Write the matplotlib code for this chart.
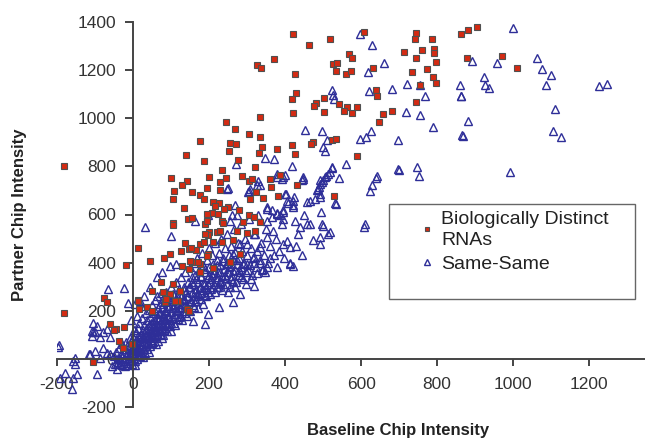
import numpy as np
import matplotlib
matplotlib.use("Agg")
import matplotlib.pyplot as plt
from matplotlib.patches import Rectangle

plt.rcParams["font.family"] = ["Liberation Sans", "DejaVu Sans"]
plt.rcParams["axes.unicode_minus"] = False

# Biologically distinct RNAs (red squares)
red_upper = [
    (420, 1351), (463, 1304), (371, 1245), (327, 1221), (337, 1207), (426, 1183), (428, 1104),
    (418, 1078), (422, 1021), (333, 1007), (244, 983), (518, 1329), (609, 1360), (569, 1265),
    (577, 1251), (527, 1224), (536, 1228), (533, 1197), (561, 1185), (574, 1197), (631, 1207),
    (745, 1356), (742, 1329), (786, 1328), (713, 1276), (760, 1283), (792, 1286), (792, 1270),
    (745, 1249), (796, 1233), (733, 1193), (773, 1203), (790, 1171), (797, 1146), (754, 1138),
    (745, 1068), (864, 1349), (881, 1367), (904, 1379), (880, 1251), (971, 1260), (1011, 1210),
    (503, 1086), (482, 1063), (476, 1051), (503, 1026), (541, 1061), (562, 1047), (589, 1047),
    (555, 1031), (576, 1020), (639, 1117), (641, 1092), (659, 1018), (682, 1031), (647, 985),
    (473, 901), (468, 894), (523, 908), (534, 912), (590, 842), (529, 676), (-181, 801),
]
red_mid = [
    (14, 460), (269, 957), (306, 933), (334, 922), (177, 905), (255, 898), (272, 894), (253, 865),
    (339, 881), (332, 857), (379, 874), (419, 889), (426, 851), (139, 849), (186, 822), (276, 825),
    (320, 797), (233, 783), (287, 762), (99, 751), (201, 754), (244, 750), (141, 740), (130, 722),
    (229, 736), (304, 740), (312, 746), (361, 746), (387, 765), (432, 721), (194, 711), (229, 700),
    (107, 699), (156, 694), (177, 683), (363, 715), (323, 693), (106, 665), (187, 665), (308, 665),
    (341, 670), (381, 678), (211, 654), (225, 649), (216, 635), (134, 628), (251, 633), (240, 624),
    (279, 617), (207, 607), (194, 601), (224, 601), (306, 599), (319, 588), (144, 580), (154, 585),
    (233, 571), (290, 568), (106, 564), (189, 561), (334, 568),
]
red_lower = [
    (-182, 190), (-18, 392), (45, 408), (82, 420), (97, 436), (106, 558), (138, 482), (126, 450),
    (148, 457), (165, 453), (176, 478), (187, 485), (194, 572), (201, 526), (198, 513), (236, 564),
    (220, 526), (229, 530), (211, 485), (234, 485), (264, 494), (273, 533), (300, 522), (321, 530),
    (282, 436), (255, 401), (128, 387), (146, 374), (176, 394), (159, 401), (211, 378), (74, 318),
    (49, 283), (106, 311), (97, 270), (14, 245), (36, 214), (84, 235), (119, 242), (141, 207),
    (-76, 255), (-69, 235), (-61, 147), (-45, 124), (-24, 133), (-36, 75), (-104, -15), (-3, 61),
    (-26, 47), (-50, 119), (12, 242), (152, 461), (189, 519), (198, 436), (194, 429), (150, 408),
    (172, 401), (176, 360), (80, 276), (17, 207), (49, 200), (88, 249), (124, 283), (111, 239),
    (146, 200),
]

# Same-Same (blue triangles)
blue_upper = [
    (596, 1352), (628, 1304), (661, 1231), (619, 1193), (720, 1143), (754, 1138), (769, 1093),
    (719, 1024), (754, 1015), (861, 1138), (862, 1093), (523, 1117), (527, 1096), (530, 1082),
    (621, 1113), (681, 1121), (999, 1376), (891, 1238), (957, 1231), (1062, 1249), (1075, 1204),
    (1100, 1179), (1087, 1138), (1227, 1135), (1246, 1144), (924, 1173), (926, 1140), (937, 1124),
    (863, 1092), (1111, 1040), (882, 989), (865, 932), (869, 926), (1104, 949), (1126, 921),
    (992, 776), (790, 964), (699, 783), (746, 799), (752, 758), (452, 950), (498, 946), (510, 908),
    (501, 881), (505, 862), (596, 915), (613, 922), (625, 946), (696, 911), (561, 811), (523, 793),
    (541, 751), (641, 762), (640, 751), (698, 788), (628, 721), (624, 696), (611, 561), (608, 550),
]
blue_band = [
    (32, 550), (348, 836), (372, 829), (271, 808), (418, 801), (400, 765), (391, 749), (378, 755),
    (447, 749), (328, 738), (326, 721), (249, 711), (306, 696), (402, 686), (424, 672), (409, 649),
    (457, 654), (268, 640), (353, 630), (378, 607), (387, 600), (395, 610), (260, 599), (365, 588),
    (451, 596), (426, 571), (163, 571), (352, 575), (395, 582), (198, 596), (514, 770), (505, 755),
    (497, 735), (488, 714), (483, 700), (509, 762), (500, 745), (493, 725), (486, 707), (518, 778),
    (448, 755), (466, 658), (479, 665), (492, 672), (533, 645), (494, 610), (466, 561), (498, 561),
    (523, 799), (532, 649), (444, 745), (492, 742), (492, 686), (400, 686), (404, 658), (422, 658),
    (303, 693), (308, 707), (246, 707), (334, 721), (378, 770), (395, 757), (352, 624), (501, 554),
    (517, 526), (492, 478), (413, 395), (422, 388), (352, 380), (343, 373), (474, 492), (492, 505),
    (514, 519), (395, 478), (413, 464), (439, 547), (457, 561), (378, 603), (395, 617), (422, 630),
    (369, 533), (352, 505), (334, 464), (317, 422), (299, 395), (282, 360), (264, 325), (282, 478),
    (264, 436), (246, 395), (317, 519), (299, 478), (255, 575), (273, 596), (220, 297), (229, 325),
    (189, 144), (317, 304), (264, 235), (282, 270), (251, 276), (225, 214), (198, 186), (159, 158),
    (100, 512), (18, 242), (62, 339), (97, 387), (113, 395), (20, 220), (30, 262), (10, 180),
    (45, 300), (75, 360), (5, 228), (-5, 162),
]
blue_left = [
    (-65, 290), (-24, 294), (-194, 57), (-153, 5), (-153, -22), (-179, -57), (-192, -78),
    (-148, -64), (-161, -126), (-94, -64), (-113, 19), (-100, 33), (-78, 47), (-61, 19), (-39, 5),
    (-43, -22), (-104, 110), (-96, 138), (-109, 96), (-87, 89), (-69, 124), (-61, 89), (-14, 232),
    (-104, 151), (-109, 117), (-100, 110), (-78, 110), (-197, 50), (-157, -8), (-157, -78),
    (-115, 19), (-87, 5), (-69, 26), (-47, -22), (-55, -30), (-50, 10), (-45, 30), (-42, -40),
    (-38, 45), (-33, -20), (-28, 60), (-22, -30), (-18, 70), (-12, -25), (-7, 85), (-3, -20),
    (2, 120), (6, -25),
]
blue_core = [
    (-40, -15), (-35, 0), (-32, 15), (-30, -25), (-28, 8), (-25, 25), (-24, -10), (-22, 40),
    (-20, 0), (-18, 18), (-16, -18), (-15, 55), (-14, 30), (-12, 5), (-10, 45), (-9, -8), (-8, 20),
    (-6, 70), (-5, 35), (-4, 10), (-2, -5), (-1, 55), (0, 25), (1, 90), (2, 5), (3, 42), (4, -10),
    (5, 65), (6, 18), (7, 110), (8, 33), (9, 80), (10, 0), (11, 50), (12, 130), (13, 20), (14, 95),
    (15, 60), (16, 38), (17, 150), (18, 12), (19, 75), (20, 105), (21, 45), (22, 28), (23, 170),
    (24, 88), (25, 60), (26, 120), (27, 8), (28, 40), (29, 140), (30, 72), (31, 100), (32, 25),
    (33, 190), (34, 55), (35, 125), (36, 85), (37, 160), (38, 40), (39, 110), (40, 70), (41, 205),
    (42, 140), (43, 95), (44, 55), (45, 175), (46, 120), (47, 80), (48, 150), (49, 225), (50, 100),
    (51, 65), (52, 135), (53, 190), (54, 110), (55, 160), (56, 85), (57, 245), (58, 125), (59, 200),
    (60, 95), (61, 150), (62, 175), (63, 115), (64, 260), (65, 135), (66, 210), (67, 75), (68, 165),
    (69, 120), (70, 230), (71, 145), (72, 190), (73, 105), (74, 275), (75, 160), (76, 125), (77, 215),
    (78, 180), (79, 140), (80, 250), (80, 100), (80, 185), (82, 235), (83, 130), (85, 165), (86, 280),
    (88, 205), (89, 145), (90, 115), (92, 250), (93, 180), (95, 220), (96, 160), (98, 135), (100, 195),
    (100, 300), (102, 240), (104, 170), (105, 270), (106, 210), (108, 150), (110, 230), (112, 185),
    (113, 320), (115, 260), (116, 200), (118, 165), (120, 245), (121, 290), (123, 215), (125, 180),
    (126, 340), (128, 265), (130, 230), (131, 200), (133, 300), (135, 250), (137, 190), (138, 360),
    (140, 280), (142, 220), (144, 320), (145, 260), (147, 205), (149, 300), (150, 380), (152, 240),
    (154, 340), (155, 275), (157, 225), (159, 310), (160, 400), (162, 260), (164, 350), (165, 290),
    (167, 240), (169, 420), (170, 320), (172, 270), (174, 370), (176, 300), (178, 250), (180, 340),
    (181, 440), (183, 285), (185, 390), (187, 320), (189, 265), (190, 360), (192, 300), (194, 410),
    (196, 340), (198, 280), (200, 460), (200, 380), (202, 320), (205, 290), (207, 350), (209, 430),
    (210, 395), (212, 310), (214, 370), (216, 480), (218, 330), (220, 410), (222, 300), (224, 360),
    (226, 440), (228, 320), (230, 390), (232, 500), (234, 345), (236, 420), (238, 310), (240, 375),
    (242, 460), (244, 335), (246, 400), (248, 520), (250, 360), (252, 430), (254, 300), (256, 385),
    (258, 470), (260, 345), (262, 410), (265, 540), (267, 370), (269, 445), (272, 320), (274, 395),
    (276, 480), (278, 350), (280, 420), (283, 560), (285, 380), (288, 450), (290, 330), (292, 400),
    (295, 500), (298, 360), (300, 430), (305, 580), (308, 390), (310, 460), (313, 350), (316, 420),
    (320, 520), (323, 380), (326, 450), (330, 600), (333, 400), (336, 480), (340, 370), (345, 430),
    (350, 540), (355, 400), (360, 470), (365, 620), (370, 430), (375, 500), (380, 380), (385, 450),
    (392, 560), (398, 420), (405, 490), (412, 400), (420, 640), (428, 470), (435, 520), (445, 430),
]
blue_core2 = [
    (3, 15), (7, 48), (12, 72), (15, 30), (18, 95), (22, 62), (26, 18), (29, 88), (33, 118),
    (36, 62), (40, 92), (43, 30), (45, 130), (48, 105), (52, 70), (54, 145), (57, 112), (60, 60),
    (63, 140), (66, 98), (68, 185), (72, 120), (75, 85), (77, 150), (81, 118), (84, 200), (87, 160),
    (90, 135), (93, 210), (95, 175), (99, 115), (101, 150), (104, 225), (107, 185), (110, 140),
    (113, 250), (115, 205), (118, 230), (121, 175), (124, 270), (127, 210), (129, 160), (132, 245),
    (134, 285), (138, 225), (141, 180), (143, 260), (146, 300), (149, 235), (151, 200), (155, 320),
    (158, 250), (160, 215), (163, 280), (166, 330), (168, 260), (171, 210), (175, 295), (178, 345),
    (180, 275), (184, 230), (187, 305), (190, 375), (193, 260), (196, 310), (199, 350), (203, 270),
    (206, 330), (210, 300), (213, 355), (217, 280), (220, 390), (223, 340), (227, 300), (230, 360),
    (235, 285), (238, 405), (243, 350), (247, 310), (252, 380), (257, 330), (262, 365), (268, 300),
    (273, 410), (278, 370), (284, 340), (290, 395), (296, 310), (302, 370), (310, 330), (318, 400),
    (325, 355), (335, 410), (348, 360), (360, 420),
]

x_ticks = [-200, 0, 200, 400, 600, 800, 1000, 1200]
y_ticks = [-200, 0, 200, 400, 600, 800, 1000, 1200, 1400]

RED = "#d42a12"
BLUE = "#2e2e98"
GREY = "#333333"


def main():
    red = np.array(red_upper + red_mid + red_lower, dtype=float)
    blue = np.array(blue_upper + blue_band + blue_left + blue_core + blue_core2, dtype=float)

    fig = plt.figure(figsize=(6.45, 4.38), dpi=100)
    ax = fig.add_axes([57 / 645, 1 - 407 / 438, 1 - 57 / 645, (407 - 22) / 438])

    hb, = ax.plot(blue[:, 0], blue[:, 1], ls="none", marker="^", ms=5.5, mfc="none",
                  mec=BLUE, mew=1.0)
    hr, = ax.plot(red[:, 0], red[:, 1], ls="none", marker="s", ms=4, mfc=RED,
                  mec="#505050", mew=0.8)

    ax.set_xlim(-200, 1347)
    ax.set_ylim(-200, 1400)
    ax.set_xticks(x_ticks)
    ax.set_yticks(y_ticks)

    for side in ("top", "right"):
        ax.spines[side].set_visible(False)
    ax.spines["left"].set_position(("data", 0))
    ax.spines["bottom"].set_position(("data", 0))
    for side in ("left", "bottom"):
        ax.spines[side].set_color("#444444")
        ax.spines[side].set_linewidth(1.4)

    ax.tick_params(axis="x", direction="out", length=5, width=1.4, color="#444444",
                   labelsize=12.5, labelcolor=GREY, pad=8)
    ax.tick_params(axis="y", direction="out", length=6, width=1.4, color="#444444",
                   labelsize=12.5, labelcolor=GREY, pad=6)

    fig.text(398 / 645, 1 - 430 / 438, "Baseline Chip Intensity", ha="center", va="center",
             fontsize=12, fontweight="bold", color="#222222")
    fig.text(20 / 645, 1 - 215 / 438, "Partner Chip Intensity", ha="center", va="center",
             rotation=90, fontsize=12, fontweight="bold", color="#222222")

    # legend box with blank space below the entries, as in the original
    ax.add_patch(Rectangle((0.565, 0.281), 0.418, 0.246, transform=ax.transAxes,
                           fill=True, fc="white", ec="#666666", lw=1.0, zorder=5))
    leg = ax.legend([hr, hb], ["Biologically Distinct\nRNAs", "Same-Same"],
                    loc="upper left", bbox_to_anchor=(0.62, 0.51), frameon=False,
                    fontsize=14, handlelength=0.6, handletextpad=0.4, borderpad=0,
                    borderaxespad=0, labelspacing=0.35, markerscale=0.7)
    leg.set_zorder(6)
    for t in leg.get_texts():
        t.set_color("#222222")
        t.set_linespacing(1.3)

    fig.savefig("out.png", dpi=100)


if __name__ == "__main__":
    main()
